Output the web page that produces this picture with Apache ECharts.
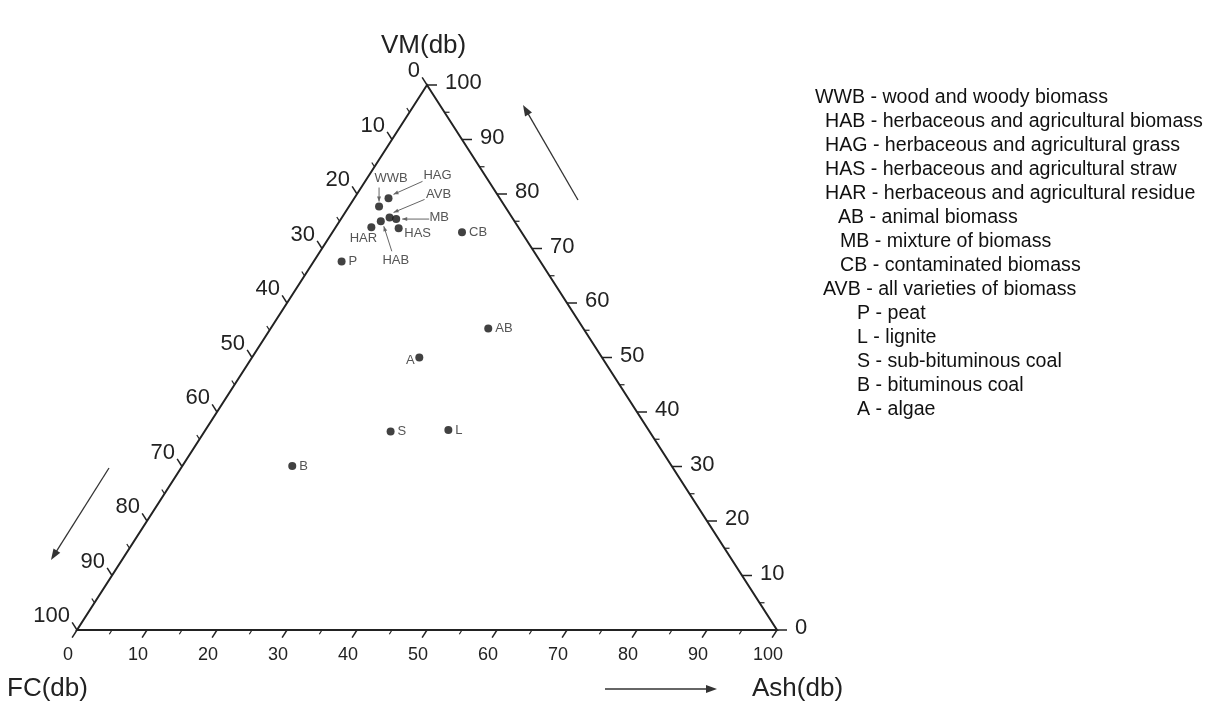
<!DOCTYPE html>
<html>
<head>
<meta charset="utf-8">
<script src="https://cdn.jsdelivr.net/npm/echarts@6/dist/echarts.min.js"></script>
<style>
    html, body { margin: 0; padding: 0; background: #fff; }
    #chart { width: 1217px; height: 706px; }
</style>
</head>
<body>
<div id="chart"></div>
<script>
// sample names and proximate composition (wt %, dry basis)
let names = ['WWB', 'HAG', 'HAB', 'AVB', 'MB', 'HAR', 'HAS', 'CB', 'P', 'AB', 'A', 'S', 'L', 'B'];
let fcValues = [18.0, 15.9, 19.1, 17.5, 16.7, 21.0, 17.2, 8.5, 28.4, 13.6, 26.1, 37.0, 28.6, 54.2];
let vmValues = [77.7, 79.2, 75.0, 75.7, 75.4, 73.9, 73.7, 73.0, 67.6, 55.3, 50.0, 36.4, 36.7, 30.1];
let ashValues = [4.3, 4.9, 5.9, 6.8, 7.9, 5.1, 9.1, 18.5, 4.0, 31.1, 23.9, 26.6, 34.7, 15.7];

let majorTicks = [0, 10, 20, 30, 40, 50, 60, 70, 80, 90, 100];
let minorTicks = [5, 15, 25, 35, 45, 55, 65, 75, 85, 95];

let legendCodes = ['WWB', 'HAB', 'HAG', 'HAS', 'HAR', 'AB', 'MB', 'CB', 'AVB', 'P', 'L', 'S', 'B', 'A'];
let legendTexts = [
    'wood and woody biomass',
    'herbaceous and agricultural biomass',
    'herbaceous and agricultural grass',
    'herbaceous and agricultural straw',
    'herbaceous and agricultural residue',
    'animal biomass',
    'mixture of biomass',
    'contaminated biomass',
    'all varieties of biomass',
    'peat',
    'lignite',
    'sub-bituminous coal',
    'bituminous coal',
    'algae'
];

let chart = echarts.init(document.getElementById('chart'));
const FONT = 'Liberation Sans, Arial, sans-serif';

// ternary (FC, VM, Ash) -> cartesian (x, y) on a 0..100 grid
function toXY(fc, vm, ash) {
    let s = fc + vm + ash;
    vm = vm / s * 100;
    ash = ash / s * 100;
    return [ash + vm / 2, vm];
}

let points = names.map((n, i) => toXY(fcValues[i], vmValues[i], ashValues[i]));

// label placement (pixel offsets from the dot) and leader arrows
let labelPos = {
    WWB: { dx: 12, dy: -28, align: 'center', from: [0, -19], to: [0, -5] },
    HAG: { dx: 49, dy: -23, align: 'center', from: [34, -17], to: [5, -4] },
    AVB: { dx: 49, dy: -23, align: 'center', from: [35, -18], to: [4, -5] },
    MB: { dx: 43, dy: -2, align: 'center', from: [33, 0], to: [6, 0] },
    HAB: { dx: 15, dy: 39, align: 'center', from: [11, 30], to: [3, 5] },
    HAS: { dx: 19, dy: 5, align: 'center' },
    HAR: { dx: -8, dy: 11, align: 'center' },
    A: { dx: -9, dy: 3, align: 'center' }
};
let defaultPos = { dx: 7, dy: 0, align: 'left' };

function unit(a, b) {
    let dx = b[0] - a[0], dy = b[1] - a[1];
    let l = Math.sqrt(dx * dx + dy * dy);
    return [dx / l, dy / l];
}

function seg(p, d, len, stroke, w) {
    return {
        type: 'line',
        shape: { x1: p[0], y1: p[1], x2: p[0] + d[0] * len, y2: p[1] + d[1] * len },
        style: { stroke: stroke, lineWidth: w }
    };
}

function txt(text, x, y, align, size, color) {
    return {
        type: 'text',
        style: {
            text: text, x: x, y: y, align: align, verticalAlign: 'middle',
            font: size + 'px ' + FONT, fill: color
        }
    };
}

function renderFrame(params, api) {
    let BL = api.coord(toXY(100, 0, 0));
    let BR = api.coord(toXY(0, 0, 100));
    let T = api.coord(toXY(0, 100, 0));
    let dBottom = unit(T, BL); // ticks on Ash axis, parallel to left edge
    let dLeft = unit(BR, T);   // ticks on FC axis, parallel to right edge
    let dRight = [1, 0];       // ticks on VM axis, horizontal
    let kids = [{
        type: 'polygon',
        shape: { points: [BL, BR, T] },
        style: { fill: 'none', stroke: '#222', lineWidth: 2 }
    }];
    majorTicks.forEach(v => {
        let pb = api.coord(toXY(100 - v, 0, v));
        let pr = api.coord(toXY(0, v, 100 - v));
        let pl = api.coord(toXY(v, 100 - v, 0));
        kids.push(seg(pb, dBottom, 9, '#222', 1.5));
        kids.push(seg(pr, dRight, 10, '#222', 1.5));
        kids.push(seg(pl, dLeft, 9, '#222', 1.5));
        kids.push(txt(String(v), pb[0] - 9, pb[1] + 25, 'center', 18, '#222'));
        kids.push(txt(String(v), pr[0] + 18, pr[1] - 2, 'left', 22, '#222'));
        kids.push(txt(String(v), pl[0] - 7, pl[1] - 14, 'right', 22, '#222'));
    });
    minorTicks.forEach(v => {
        let pb = api.coord(toXY(100 - v, 0, v));
        let pr = api.coord(toXY(0, v, 100 - v));
        let pl = api.coord(toXY(v, 100 - v, 0));
        kids.push(seg(pb, dBottom, 5, '#222', 1.2));
        kids.push(seg(pr, dRight, 5, '#222', 1.2));
        kids.push(seg(pl, dLeft, 5, '#222', 1.2));
    });
    return { type: 'group', children: kids };
}

function renderLabels(params, api) {
    let name = names[params.dataIndex];
    let p = api.coord([api.value(0), api.value(1)]);
    let lp = labelPos[name] || defaultPos;
    let kids = [txt(name, p[0] + lp.dx, p[1] + lp.dy, lp.align, 13, '#555')];
    if (lp.from) {
        let a = [p[0] + lp.from[0], p[1] + lp.from[1]];
        let b = [p[0] + lp.to[0], p[1] + lp.to[1]];
        let d = unit(a, b);
        let n = [-d[1], d[0]];
        kids.push({
            type: 'line',
            shape: { x1: a[0], y1: a[1], x2: b[0], y2: b[1] },
            style: { stroke: '#666', lineWidth: 1 }
        });
        kids.push({
            type: 'polygon',
            shape: {
                points: [b,
                    [b[0] - d[0] * 5 + n[0] * 2, b[1] - d[1] * 5 + n[1] * 2],
                    [b[0] - d[0] * 5 - n[0] * 2, b[1] - d[1] * 5 - n[1] * 2]]
            },
            style: { fill: '#666' }
        });
    }
    return { type: 'group', children: kids };
}

function bigArrow(x1, y1, x2, y2) {
    let d = unit([x1, y1], [x2, y2]);
    let n = [-d[1], d[0]];
    return {
        type: 'group',
        children: [
            { type: 'line', shape: { x1: x1, y1: y1, x2: x2 - d[0] * 6, y2: y2 - d[1] * 6 }, style: { stroke: '#333', lineWidth: 1.3 } },
            {
                type: 'polygon',
                shape: {
                    points: [[x2, y2],
                        [x2 - d[0] * 11 + n[0] * 4, y2 - d[1] * 11 + n[1] * 4],
                        [x2 - d[0] * 11 - n[0] * 4, y2 - d[1] * 11 - n[1] * 4]]
                },
                style: { fill: '#333' }
            }
        ]
    };
}

let legendX = [815, 825, 825, 825, 825, 838, 840, 840, 823, 857, 857, 857, 857, 857];
let graphics = [
    { type: 'text', left: 381, top: 33, style: { text: 'VM(db)', font: '26px ' + FONT, fill: '#222' } },
    { type: 'text', left: 7, top: 676, style: { text: 'FC(db)', font: '26px ' + FONT, fill: '#222' } },
    { type: 'text', left: 752, top: 676, style: { text: 'Ash(db)', font: '26px ' + FONT, fill: '#222' } },
    bigArrow(578, 200, 523, 105),
    bigArrow(109, 468, 51, 560),
    bigArrow(605, 689, 717, 689)
];
legendCodes.forEach((c, i) => {
    graphics.push({
        type: 'text', left: legendX[i], top: 99 + i * 24 - 11,
        style: { text: c + ' - ' + legendTexts[i], font: '19.6px ' + FONT, fill: '#111' }
    });
});

chart.setOption({
    backgroundColor: '#fff',
    animation: false,
    grid: { left: 77, right: 440, top: 85, bottom: 76 },
    xAxis: { type: 'value', min: 0, max: 100, show: false },
    yAxis: { type: 'value', min: 0, max: 100, show: false },
    graphic: graphics,
    series: [
        {
            type: 'custom',
            renderItem: renderFrame,
            data: [[0, 0]],
            silent: true,
            z: 1
        },
        {
            type: 'scatter',
            data: points,
            symbolSize: 8,
            itemStyle: { color: '#111' },
            z: 3
        },
        {
            type: 'custom',
            renderItem: renderLabels,
            data: points,
            silent: true,
            z: 2
        }
    ]
});
</script>
</body>
</html>
